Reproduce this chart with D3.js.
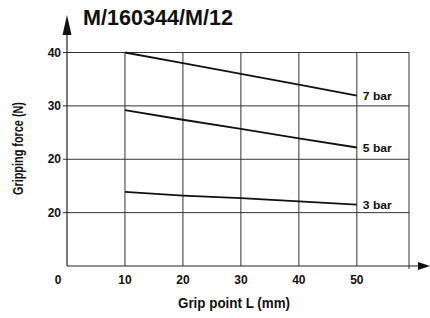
<!DOCTYPE html>
<html>
<head>
<meta charset="utf-8">
<script src="https://cdn.jsdelivr.net/npm/d3@7"></script>
<style>
  body { margin: 0; background: #fff; }
  text { font-family: "Liberation Sans", Arial, sans-serif; font-weight: bold; fill: #111; }
</style>
</head>
<body>
<script>
(function () {

var title = "M/160344/M/12";
var xTicks = [0, 10, 20, 30, 40, 50];
var xTickLabels = ["0", "10", "20", "30", "40", "50"];
var yTicks = [10, 20, 30, 40];
var yTickLabels = ["20", "20", "30", "40"];   // as printed in the original
var gripPoints = [10, 20, 30, 40, 50];
var bar7 = [40, 38, 36, 34, 31.9];
var bar5 = [29.2, 27.4, 25.7, 23.9, 22.2];
var bar3 = [13.9, 13.2, 12.7, 12.1, 11.5];
var seriesNames = ["7 bar", "5 bar", "3 bar"];

var width = 430,
    height = 318,
    x = d3.scaleLinear()
        .domain([0, 59])
        .range([67, 409]),
    y = d3.scaleLinear()
        .domain([0, 40])
        .range([266, 52.5]);

var svg = d3.select("body").append("svg")
    .attr("width", width)
    .attr("height", height);

// grid
svg.selectAll("line.hgrid")
    .data(yTicks)
  .enter().append("line")
    .attr("class", "hgrid")
    .attr("x1", x(0) - 4).attr("x2", x(59))
    .attr("y1", function(d){ return y(d); })
    .attr("y2", function(d){ return y(d); })
    .attr("stroke", "#333").attr("stroke-width", 1);

svg.selectAll("line.vgrid")
    .data(xTicks.slice(1).concat([59]))
  .enter().append("line")
    .attr("class", "vgrid")
    .attr("x1", function(d){ return x(d); })
    .attr("x2", function(d){ return x(d); })
    .attr("y1", y(40)).attr("y2", function(d){ return d === 59 ? y(0) + 3 : y(0); })
    .attr("stroke", "#333").attr("stroke-width", 1);

// axes
svg.append("line")
    .attr("x1", x(0)).attr("x2", 420)
    .attr("y1", y(0)).attr("y2", y(0))
    .attr("stroke", "#222").attr("stroke-width", 1.2);
svg.append("line")
    .attr("x1", x(0)).attr("x2", x(0))
    .attr("y1", y(0)).attr("y2", 30)
    .attr("stroke", "#222").attr("stroke-width", 1.2);

svg.append("path")
    .attr("d", "M" + 418 + "," + (y(0) - 4) + "L430," + y(0) + "L418," + (y(0) + 4) + "Z")
    .attr("fill", "#111");
svg.append("path")
    .attr("d", "M" + (x(0) - 4.5) + ",35L" + x(0) + ",15L" + (x(0) + 4.5) + ",35Z")
    .attr("fill", "#111");

// tick labels
svg.selectAll("text.ylab")
    .data(yTicks)
  .enter().append("text")
    .attr("class", "ylab")
    .attr("x", 61)
    .attr("y", function(d){ return y(d); })
    .attr("dy", "0.35em")
    .attr("text-anchor", "end")
    .attr("font-size", 12)
    .text(function(d, i){ return yTickLabels[i]; });

svg.selectAll("text.xlab")
    .data(xTicks)
  .enter().append("text")
    .attr("class", "xlab")
    .attr("x", function(d){ return d === 0 ? 58 : x(d); })
    .attr("y", 280)
    .attr("dy", "0.35em")
    .attr("text-anchor", "middle")
    .attr("font-size", 12)
    .text(function(d, i){ return xTickLabels[i]; });

// series
var series = [bar7, bar5, bar3];
var line = d3.line()
    .x(function(d, i){ return x(gripPoints[i]); })
    .y(function(d){ return y(d); });

svg.selectAll("path.line")
    .data(series)
  .enter().append("path")
    .attr("class", "line")
    .attr("d", function(d){ return line(d); })
    .attr("fill", "none")
    .attr("stroke", "#111")
    .attr("stroke-width", 1.8);

svg.selectAll("text.serie")
    .data(series)
  .enter().append("text")
    .attr("class", "serie")
    .attr("x", x(50) + 6)
    .attr("y", function(d){ return y(d[d.length - 1]); })
    .attr("dy", "0.35em")
    .attr("font-size", 11.5)
    .attr("textLength", 29)
    .attr("lengthAdjust", "spacingAndGlyphs")
    .text(function(d, i){ return seriesNames[i]; });

// titles (condensed look via textLength)
svg.append("text")
    .attr("x", 83).attr("y", 25)
    .attr("font-size", 22)
    .attr("textLength", 150)
    .attr("lengthAdjust", "spacingAndGlyphs")
    .text(title);

svg.append("text")
    .attr("x", 178).attr("y", 303)
    .attr("dy", "0.35em")
    .attr("font-size", 14)
    .attr("textLength", 112)
    .attr("lengthAdjust", "spacingAndGlyphs")
    .text("Grip point L (mm)");

svg.append("text")
    .attr("transform", "translate(18,195) rotate(-90)")
    .attr("dy", "0.35em")
    .attr("font-size", 14)
    .attr("textLength", 93)
    .attr("lengthAdjust", "spacingAndGlyphs")
    .text("Gripping force (N)");

})();
</script>
</body>
</html>
